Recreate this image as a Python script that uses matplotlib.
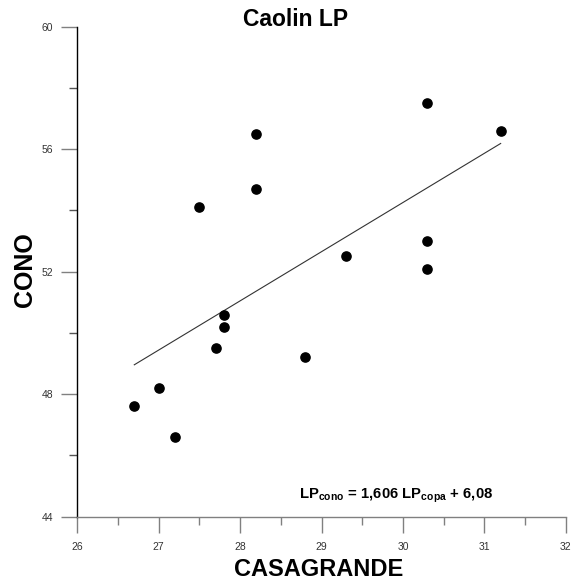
import matplotlib
matplotlib.use('Agg')
import matplotlib.pyplot as plt
from matplotlib.ticker import MultipleLocator

plt.rcParams['font.family'] = ['Liberation Sans', 'DejaVu Sans']
plt.rcParams['mathtext.fontset'] = 'custom'
plt.rcParams['mathtext.rm'] = 'Liberation Sans'
plt.rcParams['mathtext.bf'] = 'Liberation Sans:bold'

# data
casagrande = [26.7, 27.0, 27.2, 27.5, 27.7, 27.8, 27.8, 28.2, 28.2, 28.8, 29.3, 30.3, 30.3, 30.3, 31.2]
cono = [47.6, 48.2, 46.6, 54.1, 49.5, 50.2, 50.6, 56.5, 54.7, 49.2, 52.5, 57.5, 53.0, 52.1, 56.6]

# regression line LPcono = 1,606 LPcopa + 6,08
fit_slope = 1.606
fit_intercept = 6.08
fit_x = [26.7, 31.2]

W, H = 572, 580
fig = plt.figure(figsize=(W / 100, H / 100), dpi=100)
ax = fig.add_axes([77.3 / W, 1 - 516.7 / H, 488.5 / W, 490 / H])

ax.scatter(casagrande, cono, s=44, color='black', zorder=3)
fit_y = [fit_slope * x + fit_intercept for x in fit_x]
ax.plot(fit_x, fit_y, color='#333333', linewidth=0.8)

ax.set_xlim(26, 32)
ax.set_ylim(44, 60)
ax.xaxis.set_major_locator(MultipleLocator(1))
ax.xaxis.set_minor_locator(MultipleLocator(0.5))
ax.yaxis.set_major_locator(MultipleLocator(4))
ax.yaxis.set_minor_locator(MultipleLocator(2))

for side in ['top', 'right']:
    ax.spines[side].set_visible(False)
ax.spines['left'].set_color('black')
ax.spines['left'].set_linewidth(1.0)
ax.spines['bottom'].set_color('#808080')
ax.spines['bottom'].set_linewidth(1.0)

ax.tick_params(which='major', length=11.5, width=1.0, color='#808080',
               labelsize=7.5, labelcolor='#333333')
ax.tick_params(axis='x', which='major', pad=7)
ax.tick_params(axis='y', which='major', pad=6)
ax.tick_params(which='minor', length=5.8, width=1.0, color='#808080')
ax.tick_params(axis='y', which='minor', color='#555555')

# titles and labels placed in figure pixels to match the reference
fig.text(295.5 / W, 1 - 26.5 / H, 'Caolin LP', fontsize=16.5, fontweight='bold',
         ha='center', va='baseline')
fig.text(318.8 / W, 1 - 576 / H, 'CASAGRANDE', fontsize=17, fontweight='bold',
         ha='center', va='baseline')
fig.text(25 / W, 1 - 270 / H, 'CONO', fontsize=18, fontweight='bold',
         rotation=90, ha='center', va='center')

fig.text(299 / W, 1 - 498.3 / H,
         r'LP$_{\mathbf{cono}}$ = 1,606 LP$_{\mathbf{copa}}$ + 6,08',
         fontsize=10.7, fontweight='bold', ha='left', va='baseline')

fig.savefig('out.png', dpi=100)
